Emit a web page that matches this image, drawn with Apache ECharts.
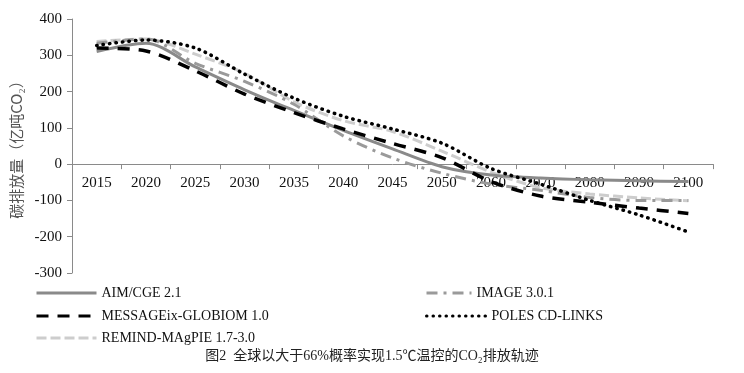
<!DOCTYPE html>
<html><head><meta charset="utf-8">
<script src="https://cdn.jsdelivr.net/npm/echarts@6/dist/echarts.min.js"></script>
<style>html,body{margin:0;padding:0;background:#fff}#c{width:744px;height:373px}</style>
</head><body><div id="c"></div>
<script>
var categories = ['2015','2020','2025','2030','2035','2040','2045','2050','2060','2070','2080','2090','2100'];
var aimCge = [310, 333, 268, 205, 148, 93, 42, -7, -30, -38, -43, -46, -48];
var image301 = [333, 345, 278, 228, 165, 78, 17, -25, -55, -72, -92, -100, -100];
var messageix = [320, 312, 257, 193, 142, 97, 57, 18, -48, -88, -105, -121, -136];
var poles = [327, 342, 320, 248, 182, 132, 97, 58, -12, -55, -100, -140, -187];
var remind = [338, 345, 303, 250, 172, 120, 90, 36, -22, -65, -82, -93, -101];
var yTicks = {min: -300, max: 400, interval: 100};
var names = ['AIM/CGE 2.1', 'IMAGE 3.0.1', 'MESSAGEix-GLOBIOM 1.0', 'POLES CD-LINKS', 'REMIND-MAgPIE 1.7-3.0'];

var serif = 'Liberation Serif';
var gridTop = 19, gridBottom = 100, chartH = 373;
var plotH = chartH - gridTop - gridBottom;
// distance from bottom of plot to the zero line, so the category axis sits on y = 0
var zeroOffset = plotH * (0 - yTicks.min) / (yTicks.max - yTicks.min);

var chart = echarts.init(document.getElementById('c'));
function legendAt(name, left, top, w) {
  return {
    data: [name], left: left, top: top, padding: 0, itemWidth: w, itemHeight: 14, itemGap: 0,
    itemStyle: {color: 'rgba(0,0,0,0)', borderWidth: 0, opacity: 0},
    lineStyle: {width: 3},
    textStyle: {fontFamily: serif, fontSize: 14, color: '#111'}
  };
}
chart.setOption({
  animation: false,
  backgroundColor: '#fff',
  grid: {left: 72, right: 31, top: gridTop, bottom: gridBottom},
  legend: [
    legendAt(names[0], 35, 286, 60),
    legendAt(names[1], 425, 286, 45),
    legendAt(names[2], 35, 309, 60),
    legendAt(names[3], 425, 309, 60),
    legendAt(names[4], 35, 331, 60)
  ],
  xAxis: {
    type: 'category', data: categories, boundaryGap: true, position: 'bottom', offset: -zeroOffset,
    axisLine: {onZero: false, lineStyle: {color: '#8a8a8a', width: 1}},
    axisTick: {show: true, interval: 0, length: 5, lineStyle: {color: '#8a8a8a'}},
    axisLabel: {interval: 0, margin: 11, fontFamily: serif, fontSize: 15, color: '#111'}
  },
  yAxis: {
    type: 'value', min: yTicks.min, max: yTicks.max, interval: yTicks.interval,
    name: '碳排放量（亿吨CO₂）', nameLocation: 'middle', nameGap: 48, nameRotate: 90,
    nameTextStyle: {fontFamily: 'Noto Sans CJK SC', fontSize: 15, color: '#555'},
    axisLine: {show: true, lineStyle: {color: '#8a8a8a', width: 1}},
    axisTick: {show: true, length: 5, lineStyle: {color: '#8a8a8a'}},
    splitLine: {show: false},
    axisLabel: {margin: 10, fontFamily: serif, fontSize: 15, color: '#111'}
  },
  series: [
    {name: names[4], type: 'line', data: remind, smooth: 0.3, symbol: 'none',
     lineStyle: {color: '#cdcdcd', width: 3, type: [10, 4]}, itemStyle: {color: '#cdcdcd'}},
    {name: names[0], type: 'line', data: aimCge, smooth: 0.3, symbol: 'none',
     lineStyle: {color: '#8a8a8a', width: 3}, itemStyle: {color: '#8a8a8a'}},
    {name: names[1], type: 'line', data: image301, smooth: 0.3, symbol: 'none',
     lineStyle: {color: '#9a9a9a', width: 3, type: [11, 6, 3, 6]}, itemStyle: {color: '#9a9a9a'}},
    {name: names[2], type: 'line', data: messageix, smooth: 0.3, symbol: 'none',
     lineStyle: {color: '#000', width: 3.5, type: [12, 9]}, itemStyle: {color: '#000'}},
    {name: names[3], type: 'line', data: poles, smooth: 0.3, symbol: 'none',
     lineStyle: {color: '#000', width: 3.5, type: [0.5, 6], cap: 'round'}, itemStyle: {color: '#000'}}
  ],
  graphic: [{
    type: 'text', left: 'center', top: 349,
    style: {text: '图2  全球以大于66%概率实现1.5℃温控的CO₂排放轨迹', fontFamily: 'Liberation Serif, Noto Sans CJK SC', fontSize: 14, fill: '#222'}
  }]
});
</script></body></html>
